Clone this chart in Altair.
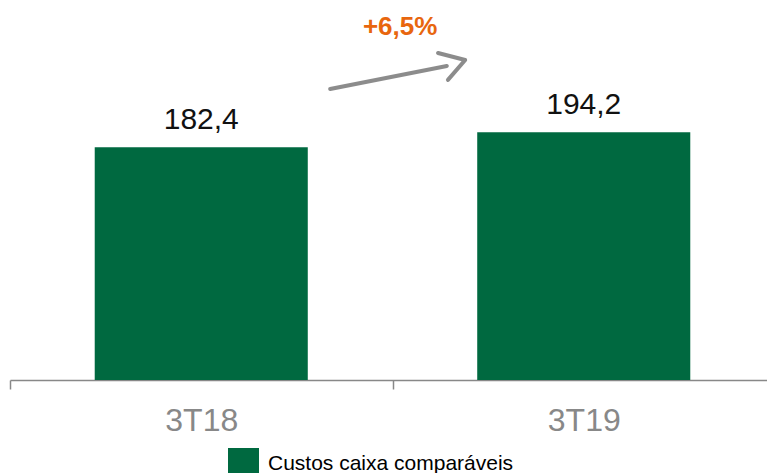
import altair as alt
import pandas as pd

# data
categories = ["3T18", "3T19"]
values = [182.4, 194.2]
series_name = "Custos caixa comparáveis"
growth_label = "+6,5%"

# annotation geometry (x in category units 0..2, y in value units)
ann_x = [1.02]
ann_y = [270.4]
arrow_part = ["shaft", "shaft", "head", "head", "head"]
arrow_order = [0, 1, 0, 1, 2]
arrow_x = [0.837, 1.142, 1.119, 1.190, 1.145]
arrow_y = [228.1, 246.1, 256.3, 250.8, 235.2]

GREEN = "#006940"
GRAY = "#888888"
ORANGE = "#E8660E"
FONT = "Liberation Sans"

df = pd.DataFrame({
    "cat": categories,
    "value": values,
    "label": [f"{v:.1f}".replace(".", ",") for v in values],
    "series": [series_name] * len(categories),
})
ann_df = pd.DataFrame({"x": ann_x, "y": ann_y, "text": [growth_label]})
arrow_df = pd.DataFrame({"part": arrow_part, "o": arrow_order, "x": arrow_x, "y": arrow_y})

yscale = alt.Scale(domain=[0, 290], nice=False, zero=True)
xscale = alt.Scale(domain=categories, paddingInner=0, paddingOuter=0)

xaxis = alt.Axis(labelAngle=0, labelFontSize=32, labelColor=GRAY, labelFont=FONT,
                 domainColor=GRAY, domainWidth=1.5, tickColor=GRAY, tickWidth=1.5,
                 tickSize=9, tickBand="extent", labelPadding=41,
                 labelBaseline="alphabetic", grid=False)

bars = alt.Chart(df).mark_bar(width=alt.RelativeBandSize(0.557), color=GREEN).encode(
    x=alt.X("cat:N", scale=xscale, sort=categories, title=None, axis=xaxis),
    y=alt.Y("value:Q", scale=yscale, axis=None),
    color=alt.Color("series:N", scale=alt.Scale(domain=[series_name], range=[GREEN]),
                    legend=alt.Legend(title=None, orient="none", legendX=218, legendY=438,
                                      symbolType="square", symbolSize=961, symbolStrokeWidth=0,
                                      labelFontSize=21, labelColor="#000000", labelFont=FONT,
                                      labelOffset=9, labelLimit=0, padding=0)),
)

labels = alt.Chart(df).mark_text(fontSize=30, font=FONT, color="#111111", dy=-18,
                                  baseline="alphabetic", align="center").encode(
    x=alt.X("cat:N", scale=xscale, sort=categories, title=None, axis=xaxis),
    y=alt.Y("value:Q", scale=yscale, axis=None),
    text="label:N",
)

ax_scale = alt.Scale(domain=[0, 2], nice=False, zero=False)

arrow = alt.Chart(arrow_df).mark_line(color="#7f7f7f", strokeWidth=4, strokeCap="round",
                                      strokeJoin="round", opacity=0.9).encode(
    x=alt.X("x:Q", scale=ax_scale, axis=None),
    y=alt.Y("y:Q", scale=yscale, axis=None),
    detail="part:N",
    order="o:Q",
)

ann = alt.Chart(ann_df).mark_text(fontSize=26, fontWeight="bold", font=FONT, color=ORANGE,
                                  baseline="alphabetic", align="center").encode(
    x=alt.X("x:Q", scale=ax_scale, axis=None),
    y=alt.Y("y:Q", scale=yscale, axis=None),
    text="text:N",
)

chart = alt.layer(
    alt.layer(bars, labels),
    alt.layer(arrow, ann),
).resolve_scale(x="independent").properties(
    width=765, height=370,
    autosize=alt.AutoSizeParams(type="none"),
    padding={"left": 2, "top": 2, "right": -8, "bottom": 93},
    background="#ffffff",
).configure_view(stroke=None)

chart.save("out.html", embed_options={"renderer": "svg", "actions": False})
